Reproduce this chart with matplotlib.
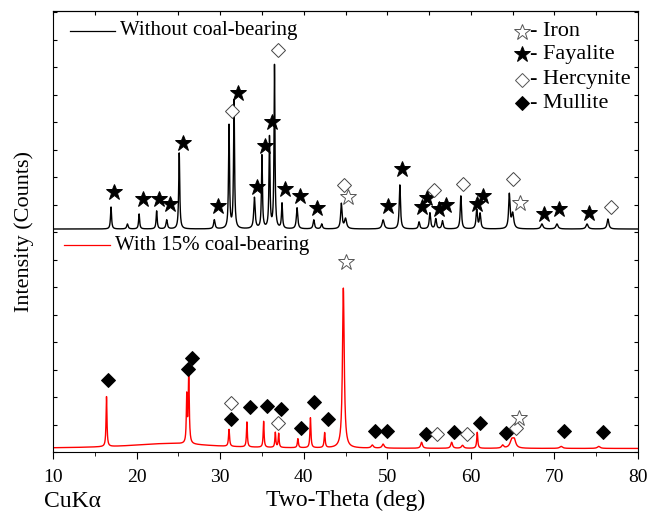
import numpy as np
import matplotlib.pyplot as plt
from matplotlib.ticker import MultipleLocator, NullFormatter

plt.rcParams['font.family'] = ['Liberation Serif', 'DejaVu Serif']

# peak lists: (2theta, height, fwhm)
black_peaks = [(16.94, 22, 0.15), (18.9, 5, 0.2), (20.3, 15, 0.15), (22.4, 18, 0.15),
               (23.6, 9, 0.2), (25.1, 76, 0.15), (29.3, 9, 0.2), (31.06, 103, 0.14),
               (31.66, 128, 0.14), (34.1, 31, 0.2), (35.0, 73, 0.14), (35.9, 91, 0.14),
               (36.5, 163, 0.13), (37.4, 25, 0.15), (39.2, 21, 0.2), (41.2, 9, 0.2),
               (42.15, 5, 0.2), (44.5, 25, 0.2), (45.0, 10, 0.3), (49.5, 9, 0.3),
               (51.5, 44, 0.18), (53.8, 7, 0.2), (55.1, 16, 0.2), (55.8, 10, 0.2),
               (56.6, 8, 0.2), (58.8, 33, 0.18), (60.7, 19, 0.2), (61.1, 15, 0.2),
               (64.6, 34, 0.2), (65.0, 15, 0.3), (68.5, 5, 0.3), (70.3, 5, 0.3),
               (73.9, 5, 0.3), (76.4, 10, 0.25)]
black_base = 223

red_peaks = [(16.4, 50, 0.13), (24.0, 5, 12.0), (26.0, 46, 0.12), (26.24, 68, 0.15),
             (31.06, 17, 0.15), (33.2, 25, 0.13), (35.2, 26, 0.13), (36.6, 15, 0.13),
             (37.0, 14, 0.13), (39.3, 9, 0.15), (40.8, 30, 0.14), (42.5, 15, 0.15),
             (44.74, 160, 0.25), (48.2, 3, 0.3), (49.5, 4, 0.3), (54.1, 6, 0.25),
             (57.7, 6, 0.25), (59.0, 3, 0.3), (60.76, 16, 0.15), (63.8, 3, 0.3),
             (64.9, 8, 0.5), (65.2, 7, 0.4), (70.8, 2, 0.4), (75.3, 2, 0.4)]
red_base = 3.5

# phase markers (2theta, intensity)
fay_black = [(17.3, 260), (20.8, 253), (22.7, 253), (24.0, 248), (25.5, 309), (29.8, 246),
             (32.1, 359), (34.4, 265), (35.4, 306), (36.2, 330), (37.7, 263), (39.5, 256),
             (41.55, 244), (50.1, 246), (51.8, 283), (54.1, 245), (54.8, 254), (56.2, 243),
             (57.0, 247), (60.7, 248), (61.5, 256), (68.7, 238), (70.6, 243), (74.1, 239)]
her_black = [(31.45, 341), (36.9, 402), (44.8, 267), (55.6, 262), (59.1, 268),
             (65.0, 273), (76.8, 245)]
iron_black = [(45.3, 255), (65.9, 249)]

mul_red = [(16.6, 72), (26.1, 83), (26.6, 94), (31.3, 33), (33.6, 45), (35.6, 46),
           (37.3, 43), (39.7, 24), (41.2, 50), (42.9, 33), (48.55, 21), (49.95, 21),
           (54.6, 18), (58.0, 20), (61.15, 29), (64.15, 19), (71.2, 21), (75.8, 20)]
her_red = [(31.3, 49), (36.9, 29), (55.9, 18), (59.55, 18), (65.35, 24)]
iron_red = [(45.1, 190), (65.8, 34)]

two_theta = np.arange(10, 80.01, 0.02)


def profile(peaks, base):
    y = np.full_like(two_theta, float(base))
    for c, h, w in peaks:
        y += h / (1 + ((two_theta - c) / (w / 2)) ** 2)
    return y


fig = plt.figure(figsize=(6.49, 5.13), dpi=100)
ax = fig.add_axes([0.0817, 0.1189, 0.9014, 0.8596])

ax.plot(two_theta, profile(black_peaks, black_base), color='black', lw=1.0)
ax.plot(two_theta, profile(red_peaks, red_base), color='red', lw=1.0)


def put(points, marker, ms, filled, edge='black'):
    xs = [p[0] for p in points]
    ys = [p[1] for p in points]
    ax.plot(xs, ys, ls='none', marker=marker, ms=ms,
            mfc='black' if filled else 'white', mec=edge, mew=0.7, zorder=5)


put(fay_black, '*', 12, True)
put(her_black, 'D', 7, False, '#444444')
put(iron_black, '*', 12, False, '#555555')
put(mul_red, 'D', 7.5, True)
put(her_red, 'D', 7, False, '#444444')
put(iron_red, '*', 12, False, '#555555')

ax.set_xlim(10, 80)
ax.set_ylim(0, 441)
ax.xaxis.set_major_locator(MultipleLocator(10))
ax.xaxis.set_minor_locator(MultipleLocator(5))
ax.yaxis.set_major_locator(MultipleLocator(27.5))
ax.yaxis.set_major_formatter(NullFormatter())
ax.tick_params(axis='x', which='both', direction='out', top=False, labelsize=14, pad=7)
ax.tick_params(axis='x', which='major', length=5)
ax.tick_params(axis='x', which='minor', length=3)
ax.tick_params(axis='y', direction='in', left=True, right=True, length=3)

top = ax.secondary_xaxis('top')
top.xaxis.set_major_locator(MultipleLocator(5))
top.tick_params(direction='in', length=3, labeltop=False)

ax.set_xlabel('Two-Theta (deg)', fontsize=17, labelpad=3)
ax.set_ylabel('Intensity (Counts)', fontsize=16, labelpad=10)
fig.text(0.068, 0.012, 'CuKα', fontsize=17, va='baseline')

# line legends
ax.plot([0.029, 0.106], [0.955, 0.955], color='black', lw=0.9, transform=ax.transAxes)
ax.text(0.1145, 0.955, 'Without coal-bearing', transform=ax.transAxes,
        va='center', fontsize=15)
ax.plot([0.019, 0.097], [0.469, 0.469], color='red', lw=0.9, transform=ax.transAxes)
ax.text(0.106, 0.469, 'With 15% coal-bearing', transform=ax.transAxes,
        va='center', fontsize=15)

# phase legend
phases = ['Iron', 'Fayalite', 'Hercynite', 'Mullite']
phase_marks = [('*', False, 12), ('*', True, 12), ('D', False, 7), ('D', True, 7.5)]
rows = [0.953, 0.902, 0.844, 0.791]
for name, (m, filled, ms), yy in zip(phases, phase_marks, rows):
    ax.plot([0.802], [yy], ls='none', marker=m, ms=ms, transform=ax.transAxes,
            mfc='black' if filled else 'white',
            mec='black' if filled else '#555555', mew=0.7)
    ax.text(0.815, yy, '- ' + name, transform=ax.transAxes, va='center', fontsize=16)

fig.savefig('out.png', dpi=100)
